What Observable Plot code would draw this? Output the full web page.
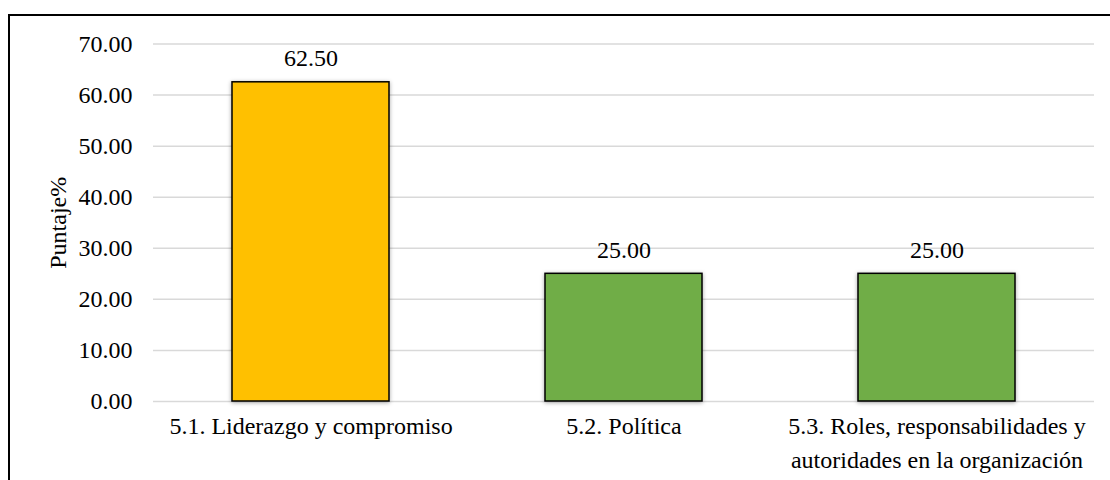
<!DOCTYPE html>
<html>
<head>
<meta charset="utf-8">
<script src="https://cdn.jsdelivr.net/npm/d3@7"></script>
<script src="https://cdn.jsdelivr.net/npm/@observablehq/plot@0.6"></script>
<style>
  html, body { margin: 0; padding: 0; background: #fff; overflow: hidden; }
  #wrap { position: relative; width: 1110px; height: 480px; }
  #frame { position: absolute; left: 8px; top: 14px; width: 1200px; height: 600px;
           border-top: 2px solid #000; border-left: 2px solid #000; box-sizing: border-box; pointer-events: none; }
  #chart { position: absolute; left: 0; top: 0; }
</style>
</head>
<body>
<div id="wrap"><div id="chart"></div><div id="frame"></div></div>
<script>
const categories = [
  "5.1. Liderazgo y compromiso",
  "5.2. Política",
  "5.3. Roles, responsabilidades y\nautoridades en la organización"
];
const values = [62.5, 25, 25];
const barColors = ["#FFC000", "#70AD47", "#70AD47"];
const yTicks = [0, 10, 20, 30, 40, 50, 60, 70];
const yLabel = "Puntaje%";

const data = categories.map((c, i) => ({category: c, value: values[i], color: barColors[i]}));

const chart = Plot.plot({
  width: 1110,
  height: 480,
  marginLeft: 153,
  marginRight: 16,
  marginTop: 43.5,
  marginBottom: 79,
  style: {fontFamily: "'Liberation Serif', 'Times New Roman', serif", fontSize: "24px", color: "#000", background: "transparent"},
  x: {domain: categories, paddingInner: 0.5, paddingOuter: 0.25, label: null},
  y: {domain: [0, 70], label: null},
  color: {type: "identity"},
  marks: [
    Plot.gridY(yTicks, {stroke: "#d9d9d9", strokeOpacity: 1, strokeWidth: 1.5}),
    Plot.axisY(yTicks, {tickSize: 0, tickPadding: 21, tickFormat: d => d.toFixed(2), label: null}),
    Plot.axisX({tickSize: 0, tickPadding: 9, lineHeight: 1.4, label: null}),
    Plot.barY(data, {x: "category", y: "value", fill: "color", stroke: "#000", strokeWidth: 1.5}),
    Plot.text(data, {x: "category", y: "value", text: d => d.value.toFixed(2), dy: -24}),
    Plot.text([yLabel], {frameAnchor: "left", textAnchor: "middle", dx: -95, rotate: -90, text: d => d})
  ]
});
document.getElementById("chart").appendChild(chart);
d3.select(chart).selectAll("g[aria-label=bar] rect").style("filter", "drop-shadow(0px 1px 2px rgba(0,0,0,0.35))");
</script>
</body>
</html>
